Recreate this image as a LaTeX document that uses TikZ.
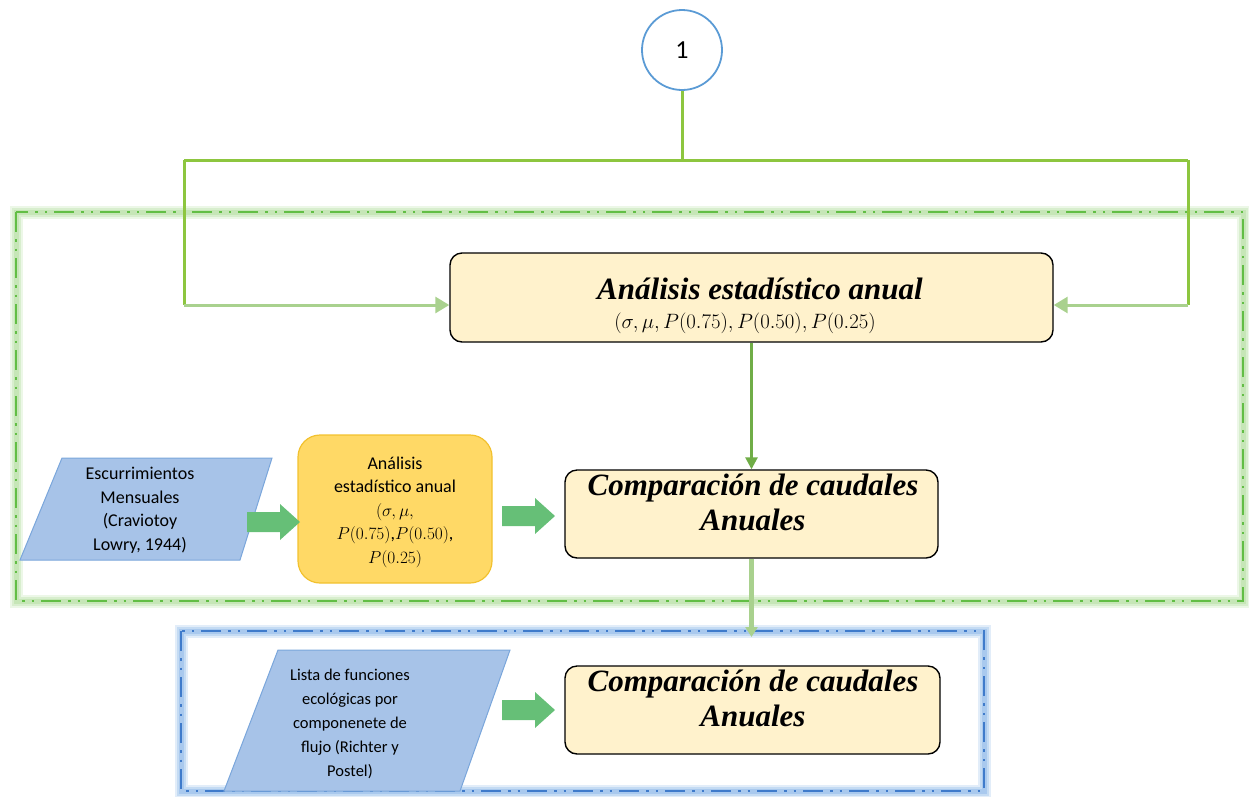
\documentclass[tikz,border=0pt]{standalone}
\usepackage[no-math]{fontspec}
\setmainfont{Carlito}
\newfontfamily\titlefont{Liberation Serif}
\usetikzlibrary{arrows.meta}
\definecolor{lgreen}{HTML}{8DC63F}
\definecolor{pgreen}{HTML}{A9D18E}
\definecolor{dgreen}{HTML}{70AD47}
\definecolor{agreen}{HTML}{66BF77}
\definecolor{boxfill}{HTML}{FFF2CC}
\definecolor{goldfill}{HTML}{FFD966}
\definecolor{golddraw}{HTML}{F2C12E}
\definecolor{parafill}{HTML}{A7C3E8}
\definecolor{paradraw}{HTML}{7AA6DB}
\definecolor{circblue}{HTML}{5B9BD5}
\definecolor{framegreen}{HTML}{62BE45}
\definecolor{glowgreen}{HTML}{B4DEA0}
\definecolor{frameblue}{HTML}{3F7BCB}
\definecolor{glowblue}{HTML}{8DB8E8}
\tikzset{
  titletext/.style={font=\titlefont\bfseries\itshape\fontsize{31}{35}\selectfont},
  ybox/.style={draw=black, line width=1.4pt, fill=boxfill, rounded corners=12pt, align=center},
  circ/.style={circle, draw=circblue, line width=1.8pt, minimum size=80pt, font=\fontsize{26}{30}\selectfont},
  smalltext/.style={align=center, font=\fontsize{18}{23.5}\selectfont},
  glowa/.style={line width=13pt, opacity=0.25},
  glowb/.style={line width=9pt, opacity=0.35},
  glowc/.style={line width=5pt, opacity=0.5},
  dashdot/.style={line width=2.6pt, dash pattern=on 20pt off 7pt on 2.5pt off 7pt on 2.5pt off 7pt},
  feed/.style={draw=lgreen, line width=3pt},
  feedarrow/.style={draw=pgreen, line width=3pt, -{Triangle[length=14pt,width=16pt]}},
  parablue/.style={fill=parafill, draw=paradraw, line width=1pt},
  bigarrow/.style={fill=agreen},
}
\newcommand{\blockarr}[1]{\fill[bigarrow] (#1) ++(0,-10) -- ++(33,0) -- ++(0,-8) -- ++(20,18) -- ++(-20,18) -- ++(0,-8) -- ++(-33,0) -- cycle;}
\newcommand{\glowframe}[3]{%
  \draw[#1, glowa] #2;
  \draw[#1, glowb] #2;
  \draw[#1, glowc] #2;
  \draw[#3, dashdot] #2;}
\begin{document}
\begin{tikzpicture}[x=1pt,y=-1pt]
\useasboundingbox (0,0) rectangle (1249,796);
% frames
\glowframe{glowgreen}{(16,212) rectangle (1243,601)}{framegreen}
\glowframe{glowblue}{(181,631) rectangle (984,791)}{frameblue}

% nodes
\node[circ] (c1) at (682,50) {1};
\node[ybox, minimum width=603pt, minimum height=89pt] (top) at (751.5,297.5) {};
\node[titletext, anchor=base] (toptitle) at (760,299) {Análisis estadístico anual};
\node[anchor=base, font=\fontsize{21}{24}\selectfont] (topmath) at (745,328) {$(\sigma,\mu,P(0.75),P(0.50),P(0.25)$};

\node[ybox, minimum width=373pt, minimum height=88pt] (comp1) at (751.5,514) {};
\node[titletext, align=center, anchor=north] (comp1t) at (753,470) {Comparación de caudales\\Anuales};

\node[ybox, minimum width=375pt, minimum height=88pt] (comp2) at (752.5,710) {};
\node[titletext, align=center, anchor=north] (comp2t) at (753,666) {Comparación de caudales\\Anuales};

\node[draw=golddraw, line width=1.2pt, fill=goldfill, rounded corners=22pt, minimum width=194pt, minimum height=148pt] (gold) at (395,509) {};
\node[smalltext] (goldt) at (395,512) {Análisis\\estadístico anual\\$(\sigma,\mu,$\\$P(0.75)$,$P(0.50)$,\\$P(0.25)$};

% parallelograms
\filldraw[parablue] (62,458) -- (272,458) -- (240,560) -- (20,560) -- cycle;
\node[smalltext] (esc) at (140,510) {Escurrimientos\\Mensuales\\(Craviotoy\\Lowry, 1944)};
\filldraw[parablue] (278,650) -- (510,650) -- (460,791) -- (224,791) -- cycle;
\node[smalltext, font=\fontsize{16.5}{24}\selectfont] (lista) at (350,724) {Lista de funciones\\ecológicas por\\componenete de\\flujo (Richter y\\Postel)};

% block arrows
\blockarr{247,522}
\blockarr{502,516}
\blockarr{502,710}

% connectors
\coordinate (J) at (c1.south |- 0,160);
\coordinate (L) at (184,160);
\coordinate (R) at (1188,160);
\coordinate (Lb) at (184,305);
\coordinate (Rb) at (1188,305);
\draw[feed] (c1.south) -- (J);
\draw[feed] (L) -- (R);
\draw[feed] (L) -- (Lb);
\draw[feed] (R) -- (Rb);
\draw[feedarrow] (Lb) -- (Lb -| top.west);
\draw[feedarrow] (Rb) -- (Rb -| top.east);
\draw[draw=dgreen, line width=2.6pt, -{Triangle[length=12pt,width=12pt]}] (top.south) -- (comp1.north);
\coordinate (bt) at (comp1.south |- 0,637);
\draw[draw=pgreen, line width=5pt, -{Triangle[length=10pt,width=12pt]}] (comp1.south) -- (bt);
\end{tikzpicture}
\end{document}
